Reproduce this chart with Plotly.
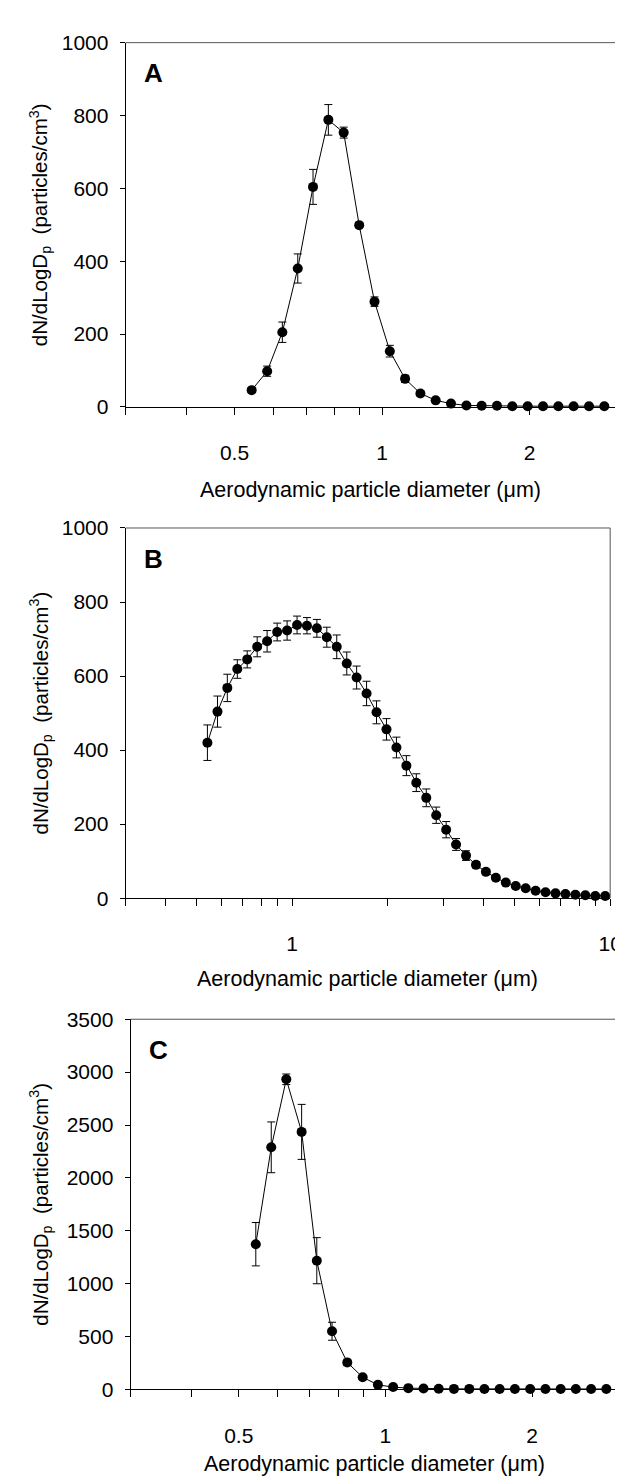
import math
import plotly.graph_objects as go

# ---------------- data ----------------
diam_A = [0.542, 0.583, 0.626, 0.673, 0.723, 0.777, 0.835, 0.898, 0.965, 1.037, 1.114, 1.197,
          1.286, 1.382, 1.486, 1.596, 1.715, 1.843, 1.981, 2.129, 2.288, 2.458, 2.642, 2.839]
conc_A = [46, 98, 205, 380, 604, 788, 753, 499, 289, 153, 77, 37,
          18, 9, 4, 3, 3, 2, 2, 2, 2, 2, 2, 2]
err_A = [6, 14, 28, 40, 48, 42, 15, 6, 13, 16, 10, 7,
         4, 2, 1, 1, 1, 1, 1, 1, 1, 1, 1, 1]

diam_B = [0.542, 0.583, 0.626, 0.673, 0.723, 0.777, 0.835, 0.898, 0.965, 1.037, 1.114, 1.197,
          1.286, 1.382, 1.486, 1.596, 1.715, 1.843, 1.981, 2.129, 2.288, 2.458, 2.642, 2.839,
          3.051, 3.278, 3.523, 3.786, 4.068, 4.371, 4.698, 5.048, 5.425, 5.829, 6.264, 6.732,
          7.234, 7.774, 8.354, 8.977, 9.647]
conc_B = [420, 504, 568, 619, 645, 679, 694, 719, 723, 738, 736, 729,
          705, 679, 634, 596, 553, 502, 456, 407, 358, 312, 271, 224,
          185, 145, 115, 90, 71, 55, 42, 33, 27, 20, 16, 13,
          11, 9, 8, 6, 6]
err_B = [48, 42, 37, 25, 23, 27, 29, 24, 26, 24, 22, 24,
         27, 32, 31, 31, 33, 31, 29, 28, 27, 24, 24, 22,
         22, 16, 13, 8, 5, 3, 3, 2, 2, 2, 2, 1,
         1, 1, 1, 1, 1]

diam_C = [0.542, 0.583, 0.626, 0.673, 0.723, 0.777, 0.835, 0.898, 0.965, 1.037, 1.114, 1.197,
          1.286, 1.382, 1.486, 1.596, 1.715, 1.843, 1.981, 2.129, 2.288, 2.458, 2.642, 2.839]
conc_C = [1373, 2289, 2932, 2435, 1217, 550, 255, 115, 43, 22, 12, 8,
          6, 5, 5, 4, 4, 4, 4, 4, 4, 4, 4, 4]
err_C = [205, 240, 50, 260, 218, 85, 30, 10, 5, 3, 2, 1,
         1, 1, 1, 1, 1, 1, 1, 1, 1, 1, 1, 1]

panel_labels = ["A", "B", "C"]
x_labels_AC = [0.5, 1, 2]
x_minor_AC = [0.3, 0.4, 0.6, 0.7, 0.8, 0.9, 3]
x_labels_B = [1, 10]
x_minor_B = [0.3, 0.4, 0.5, 0.6, 0.7, 0.8, 0.9, 2, 3, 4, 5, 6, 7, 8, 9]
y_ticks_AB = [0, 200, 400, 600, 800, 1000]
y_ticks_C = [0, 500, 1000, 1500, 2000, 2500, 3000, 3500]
x_title = "Aerodynamic particle diameter (\u03bcm)"
y_title = "dN/dLogD<sub>p</sub>  (particles/cm<sup>3</sup>)"

# ---------------- layout geometry (pixels) ----------------
W, H = 623, 1482
FONT = "Liberation Sans, Arial, sans-serif"

def px_x(p):
    return p / W

def px_y(p):
    return 1 - p / H

panels = [
    dict(l=120, r=620, t=23, b=393, title_off=84),
    dict(l=120, r=614, t=516, b=892, title_off=82),
    dict(l=125, r=622, t=1015, b=1391, title_off=76),
]

datasets = [
    (diam_A, conc_A, err_A, [0.3, 3], x_labels_AC, x_minor_AC, [0, 1000], y_ticks_AB),
    (diam_B, conc_B, err_B, [0.3, 10], x_labels_B, x_minor_B, [0, 1000], y_ticks_AB),
    (diam_C, conc_C, err_C, [0.3, 3], x_labels_AC, x_minor_AC, [0, 3500], y_ticks_C),
]

fig = go.Figure()
layout = dict(
    width=W, height=H,
    margin=dict(l=0, r=0, t=0, b=0),
    paper_bgcolor="white", plot_bgcolor="white",
    showlegend=False,
    font=dict(family=FONT, color="black"),
)
annotations = []
shapes = []

for i, (pan, ds) in enumerate(zip(panels, datasets)):
    xs, ys, es, xr, xlab, xmin, yr, ytv = ds
    n = "" if i == 0 else str(i + 1)
    xa, ya = "x" + n, "y" + n
    fig.add_trace(go.Scatter(
        x=xs, y=ys, xaxis=xa, yaxis=ya,
        mode="lines+markers",
        line=dict(color="black", width=1),
        marker=dict(color="black", size=10, symbol="circle"),
        error_y=dict(type="data", array=es, visible=True, color="black", thickness=1, width=4),
        cliponaxis=False,
    ))
    layout["xaxis" + n] = dict(
        type="log", range=[math.log10(xr[0]), math.log10(xr[1])],
        domain=[px_x(pan["l"]), px_x(pan["r"])], anchor=ya,
        tickmode="array", tickvals=xlab, ticktext=[("%g" % v) for v in xlab],
        ticks="outside", ticklen=7, tickwidth=1, tickcolor="black",
        minor=dict(tickmode="array", tickvals=xmin, ticks="outside", ticklen=7,
                   tickwidth=1, tickcolor="black", showgrid=False),
        showline=True, linecolor="black", linewidth=1, showgrid=False, zeroline=False,
        tickfont=dict(size=21, family=FONT, color="black"), ticklabelstandoff=20,
        ticklabeloverflow="allow",
    )
    layout["yaxis" + n] = dict(
        range=yr, domain=[px_y(pan["b"]), px_y(pan["t"])], anchor=xa,
        tickvals=ytv, ticks="outside", ticklen=5, tickwidth=1, tickcolor="black",
        showline=True, linecolor="black", linewidth=1, showgrid=False, zeroline=False,
        tickfont=dict(size=21, family=FONT, color="black"), ticklabelstandoff=7,
        ticklabeloverflow="allow",
    )
    shapes.append(dict(type="line", xref=xa + " domain", yref=ya + " domain",
                       x0=0, x1=1, y0=1, y1=1, line=dict(color="#555", width=1)))
    shapes.append(dict(type="line", xref=xa + " domain", yref=ya + " domain",
                       x0=1, x1=1, y0=0, y1=1, line=dict(color="#555", width=1)))
    annotations.append(dict(text="<b>%s</b>" % panel_labels[i], xref="paper", yref="paper",
                            x=px_x(pan["l"] + 28), y=px_y(pan["t"] + 31),
                            showarrow=False, font=dict(size=26, family=FONT, color="black"),
                            xanchor="center", yanchor="middle"))
    annotations.append(dict(text=x_title, xref="paper", yref="paper",
                            x=px_x((pan["l"] + pan["r"]) / 2), y=px_y(pan["b"] + pan["title_off"]),
                            showarrow=False, font=dict(size=21.5, family=FONT, color="black"),
                            xanchor="center", yanchor="middle"))
    annotations.append(dict(text=y_title, xref="paper", yref="paper",
                            x=px_x(33), y=px_y((pan["t"] + pan["b"]) / 2),
                            showarrow=False, textangle=-90,
                            font=dict(size=20.5, family=FONT, color="black"),
                            xanchor="center", yanchor="middle"))

layout["annotations"] = annotations
layout["shapes"] = shapes
fig.update_layout(**layout)
fig.write_html("out.html")
